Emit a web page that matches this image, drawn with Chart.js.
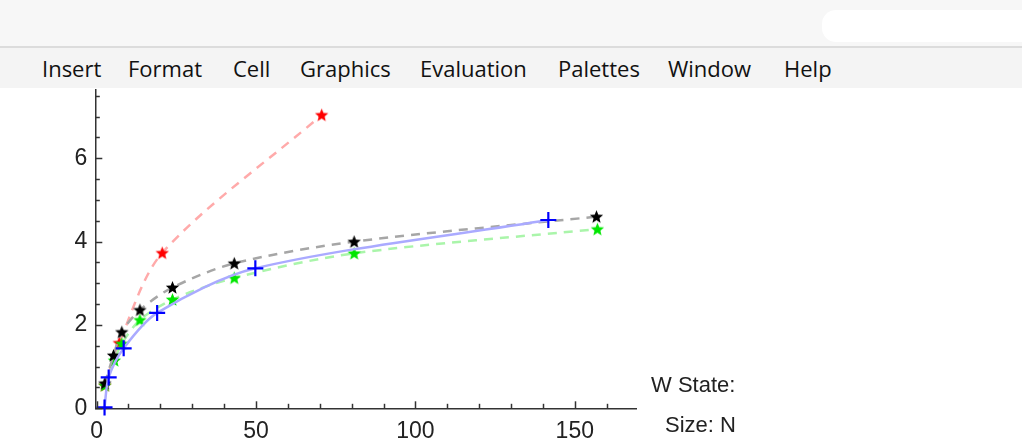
<!DOCTYPE html>
<html>
<head>
<meta charset="utf-8">
<script src="https://cdn.jsdelivr.net/npm/chart.js@4.4.1/dist/chart.umd.min.js"></script>
<style>
  html, body { margin: 0; padding: 0; background: #fff; }
  body { width: 1022px; height: 446px; position: relative; overflow: hidden; font-family: "Liberation Sans", Arial, sans-serif; }
  #titlebar { position: absolute; left: 0; top: 0; width: 1022px; height: 46px; background: #f7f7f7; }
  #blob { position: absolute; left: 822px; top: 10px; width: 200px; height: 32px; background: #fff; border-radius: 14px 0 0 14px; }
  #menubar { position: absolute; left: 0; top: 46px; width: 1022px; height: 42px; background: #f4f4f4; border-top: 2px solid #dcdcdc; box-sizing: border-box; }
  .menu { position: absolute; top: 5px; font-family: "Open Sans", sans-serif; font-size: 22px; color: #111; white-space: nowrap; }
  #wrap { position: absolute; left: 0; top: 88px; width: 660px; height: 358px; }
  .side { position: absolute; font-size: 22px; color: #222; white-space: nowrap; line-height: 24px; }
</style>
</head>
<body>
<div id="titlebar"><div id="blob"></div></div>
<div id="menubar">
  <span class="menu" style="left:42px">Insert</span>
  <span class="menu" style="left:128px">Format</span>
  <span class="menu" style="left:233px">Cell</span>
  <span class="menu" style="left:300px">Graphics</span>
  <span class="menu" style="left:420px">Evaluation</span>
  <span class="menu" style="left:558px">Palettes</span>
  <span class="menu" style="left:668px">Window</span>
  <span class="menu" style="left:784px">Help</span>
</div>
<div id="wrap"><canvas id="chart" width="660" height="358"></canvas></div>
<div class="side" style="left:651px; top:373px">W State:</div>
<div class="side" style="left:665px; top:413px">Size: N</div>

<script>
// Datos (x, y) por serie
const redX = [2.6, 7.1, 20.6, 70.6];
const redY = [0.55, 1.57, 3.73, 7.04];

const blackX = [2.6, 5.3, 7.9, 13.6, 23.8, 43.2, 80.8, 156.8];
const blackY = [0.6, 1.27, 1.83, 2.36, 2.9, 3.48, 4.0, 4.6];

const greenX = [2.6, 5.6, 7.9, 13.6, 23.8, 43.2, 80.8, 157.1];
const greenY = [0.55, 1.15, 1.55, 2.12, 2.61, 3.13, 3.72, 4.3];

const blueX = [2.5, 3.8, 8.5, 19.0, 49.8, 141.7];
const blueY = [0.02, 0.74, 1.44, 2.29, 3.36, 4.52];

// Etiquetas de los ejes
const xMajor = [0, 50, 100, 150];
const yMajor = [0, 2, 4, 6];

const pts = (xs, ys) => xs.map((x, i) => ({ x, y: ys[i] }));

// Estrella rellena de 5 puntas como imagen para pointStyle
function starImage(color) {
    const c = document.createElement('canvas');
    c.width = 15; c.height = 15;
    const g = c.getContext('2d');
    g.fillStyle = color;
    g.beginPath();
    for (let i = 0; i < 10; i++) {
        const r = i % 2 === 0 ? 7 : 3.1;
        const a = -Math.PI / 2 + i * Math.PI / 5;
        g.lineTo(7.5 + r * Math.cos(a), 8 + r * Math.sin(a));
    }
    g.closePath();
    g.fill();
    return c;
}

// Marcas de los ejes hacia dentro (largas en los valores principales)
const inwardTicks = {
    id: 'inwardTicks',
    afterDraw(chart) {
        const ctx = chart.ctx;
        const xs = chart.scales.x, ys = chart.scales.y;
        ctx.save();
        ctx.strokeStyle = '#333';
        ctx.lineWidth = 1.5;
        ys.ticks.forEach(t => {
            const py = Math.round(ys.getPixelForValue(t.value)) + 0.5;
            const len = yMajor.includes(t.value) ? 7 : 4.5;
            ctx.beginPath(); ctx.moveTo(xs.left, py); ctx.lineTo(xs.left + len, py); ctx.stroke();
        });
        xs.ticks.forEach(t => {
            const px = Math.round(xs.getPixelForValue(t.value)) + 0.5;
            const len = xMajor.includes(t.value) ? 7 : 4.5;
            ctx.beginPath(); ctx.moveTo(px, ys.bottom); ctx.lineTo(px, ys.bottom - len); ctx.stroke();
        });
        ctx.restore();
    }
};

const lineDefaults = { showLine: true, borderWidth: 2.5, tension: 0.3, clip: false, pointRadius: 7, pointHoverRadius: 7 };

new Chart(document.getElementById('chart'), {
    type: 'scatter',
    data: {
        datasets: [
            { ...lineDefaults, order: 4, data: pts(redX, redY), borderColor: '#ffaaaa', borderDash: [9, 7], pointStyle: starImage('#ff0000') },
            { ...lineDefaults, order: 3, data: pts(greenX, greenY), borderColor: '#aaf5aa', borderDash: [9, 7], pointStyle: starImage('#00e600') },
            { ...lineDefaults, order: 2, data: pts(blackX, blackY), borderColor: '#a6a6a6', borderDash: [9, 7], pointStyle: starImage('#000000') },
            { ...lineDefaults, order: 1, data: pts(blueX, blueY), borderColor: '#aaaaff', pointStyle: 'cross', pointRadius: 8, pointBorderColor: '#0000ff', pointBorderWidth: 2.2, pointBackgroundColor: '#0000ff' }
        ]
    },
    options: {
        responsive: false,
        animation: false,
        devicePixelRatio: 1,
        layout: { autoPadding: false, padding: { left: 0, top: 2, right: 24, bottom: 0 } },
        plugins: { legend: { display: false }, tooltip: { enabled: false } },
        scales: {
            x: {
                type: 'linear', min: -0.4, max: 169.2,
                afterFit: s => { s.height = 37.7; s.paddingLeft = 0; s.paddingRight = 0; },
                grid: { display: false, drawTicks: false },
                border: { display: true, color: '#333', width: 1.5 },
                ticks: {
                    stepSize: 10, includeBounds: false, autoSkip: false, maxRotation: 0, padding: 10,
                    color: '#222', font: { family: 'Liberation Sans', size: 23 },
                    callback: v => xMajor.includes(v) ? String(v) : ''
                }
            },
            y: {
                type: 'linear', min: 0, max: 7.64,
                afterFit: s => { s.width = 95.3; s.paddingTop = 0; s.paddingBottom = 0; },
                grid: { display: false, drawTicks: false },
                border: { display: true, color: '#333', width: 1.5 },
                ticks: {
                    stepSize: 0.5, includeBounds: false, autoSkip: false, padding: 8,
                    color: '#222', font: { family: 'Liberation Sans', size: 23 },
                    callback: v => yMajor.includes(v) ? String(v) : ''
                }
            }
        }
    },
    plugins: [inwardTicks]
});
</script>
</body>
</html>
